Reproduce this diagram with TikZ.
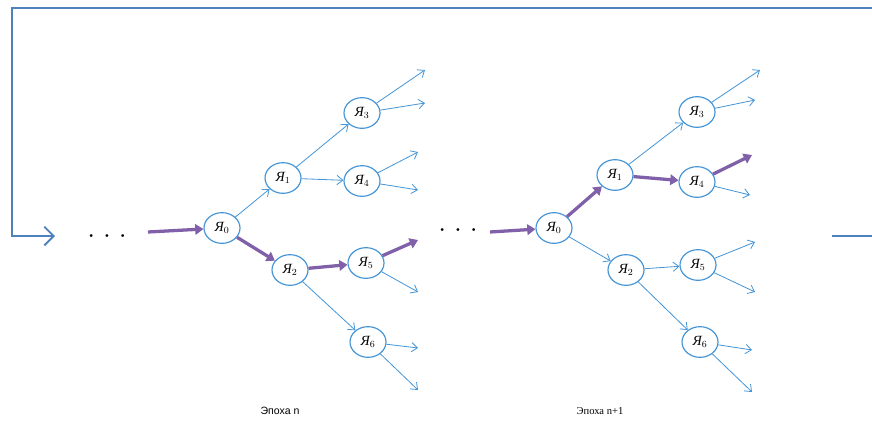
\documentclass[tikz,border=0pt]{standalone}
\usepackage{fontspec}
\setmainfont{Liberation Serif}
\newfontfamily\epsans{Liberation Sans}
\usepackage{tikz}
\usepackage{xcolor}
\usetikzlibrary{shapes.geometric, positioning, arrows.meta}

\definecolor{loopblue}{RGB}{79,129,189}
\definecolor{lineblue}{RGB}{70,150,215}
\definecolor{pathpurple}{RGB}{128,96,168}

\tikzset{
  ya/.style={ellipse, draw=lineblue, line width=1pt, fill=white, minimum width=1.08cm, minimum height=0.92cm, inner sep=0pt, font=\large},
  thinarr/.style={-{Straight Barb[length=5pt,width=8pt]}, lineblue, line width=0.7pt},
  thickarr/.style={-{Triangle[length=7pt,width=9pt]}, pathpurple, line width=2.8pt},
  looparr/.style={loopblue, line width=1.6pt},
  dotrow/.style={font=\fontsize{4}{5}\selectfont}
}

\begin{document}
\begin{tikzpicture}[x=0.03cm, y=-0.03cm]
    \useasboundingbox (0,0) rectangle (872,423);
    % outer loop
    \coordinate (ltop) at (872,8);
    \coordinate (lcorner) at (12,8);
    \coordinate (lbot) at (12,236);
    \coordinate (lend) at (55,236);
    \coordinate (rstart) at (832,236);
    \coordinate (rend) at (872,236);
    \draw[looparr, -{Straight Barb[length=8pt,width=16pt]}] (ltop) -- (lcorner) -- (lbot) -- (lend);
    \draw[looparr] (rstart) -- (rend);
    %
    % epoch n
    \node[dotrow] (dots1) at (107,236) {$\bullet\;\;\;\;\bullet\;\;\;\;\bullet$};
    \coordinate (in1) at (148,232);
    \node[ya] (a0) at (222,228) {{\itshape Я}$_0$};
    \node[ya] (a1) at (283,178) {{\itshape Я}$_1$};
    \node[ya] (a2) at (290,270) {{\itshape Я}$_2$};
    \node[ya] (a3) at (362,113) {{\itshape Я}$_3$};
    \node[ya] (a4) at (362,181) {{\itshape Я}$_4$};
    \node[ya] (a5) at (366,263) {{\itshape Я}$_5$};
    \node[ya] (a6) at (368,342) {{\itshape Я}$_6$};
    \draw[thickarr] (in1) -- (a0);
    \draw[thinarr] (a0) -- (a1);
    \draw[thickarr] (a0) -- (a2);
    \draw[thinarr] (a1) -- (a3);
    \draw[thinarr] (a1) -- (a4);
    \draw[thickarr] (a2) -- (a5);
    \draw[thinarr] (a2) -- (a6);
    \foreach \n/\x/\y in {a3/425/70, a3/425/103, a4/418/152, a4/418/190,
                          a5/418/292, a6/418/348, a6/418/390}
      \draw[thinarr] (\n) -- (\x,\y);
    \coordinate (out1) at (418,240);
    \draw[thickarr] (a5) -- (out1);
    \node[font=\epsans\small] (ep1) at (280,411) {Эпоха n};
    %
    % epoch n+1
    \node[dotrow] (dots2) at (458,230) {$\bullet\;\;\;\;\bullet\;\;\;\;\bullet$};
    \coordinate (in2) at (490,232);
    \node[ya] (b0) at (554,228) {{\itshape Я}$_0$};
    \node[ya] (b1) at (615,175) {{\itshape Я}$_1$};
    \node[ya] (b2) at (626,270) {{\itshape Я}$_2$};
    \node[ya] (b3) at (697,112) {{\itshape Я}$_3$};
    \node[ya] (b4) at (697,182) {{\itshape Я}$_4$};
    \node[ya] (b5) at (698,265) {{\itshape Я}$_5$};
    \node[ya] (b6) at (700,342) {{\itshape Я}$_6$};
    \draw[thickarr] (in2) -- (b0);
    \draw[thickarr] (b0) -- (b1);
    \draw[thinarr] (b0) -- (b2);
    \draw[thinarr] (b1) -- (b3);
    \draw[thickarr] (b1) -- (b4);
    \draw[thinarr] (b2) -- (b5);
    \draw[thinarr] (b2) -- (b6);
    \foreach \n/\x/\y in {b3/760/70, b3/755/100, b4/750/195,
                          b5/755/242, b5/755/292, b6/752/350, b6/752/392}
      \draw[thinarr] (\n) -- (\x,\y);
    \coordinate (out2) at (752,155);
    \draw[thickarr] (b4) -- (out2);
    \node[font=\small] (ep2) at (600,411) {Эпоха n+1};
\end{tikzpicture}
\end{document}
